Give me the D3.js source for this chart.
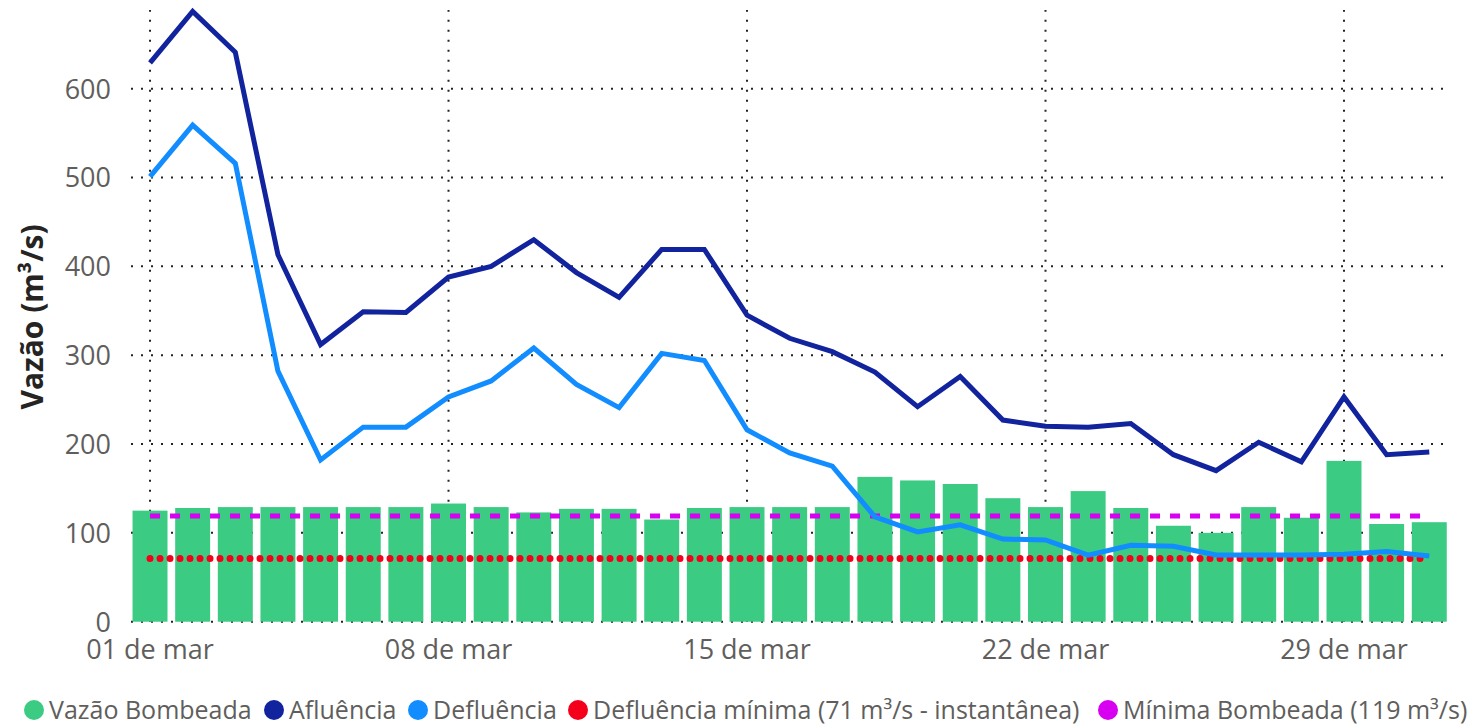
<!DOCTYPE html>
<html>
<head>
<meta charset="utf-8">
<script src="https://cdn.jsdelivr.net/npm/d3@7"></script>
<style>
  html, body { margin: 0; padding: 0; background: #fff; }
  svg { display: block; }
  svg text { font-family: "Open Sans", "Noto Sans", sans-serif; }
</style>
</head>
<body>
<svg id="chart" width="1475" height="728"></svg>
<script>
// ---------- data ----------
const days = d3.range(1, 32);
const vazaoBombeada = [125, 128, 129, 129, 129, 129, 129, 133, 129, 123, 127, 127, 115, 128, 129, 129, 129, 163, 159, 155, 139, 129, 147, 128, 108, 100, 129, 117, 181, 110, 112];
const afluencia = [629, 687, 641, 413, 312, 349, 348, 388, 400, 430, 393, 365, 419, 419, 345, 319, 304, 281, 242, 276, 227, 220, 219, 223, 188, 170, 202, 180, 253, 188, 191];
const defluencia = [501, 559, 516, 282, 182, 219, 219, 253, 271, 308, 267, 241, 302, 294, 216, 190, 175, 118, 101, 109, 93, 92, 75, 86, 85, 75, 75, 75, 76, 79, 74];
const defluenciaMinima = 71;
const minimaBombeada = 119;
const yTicks = [0, 100, 200, 300, 400, 500, 600];
const xTickDays = [1, 8, 15, 22, 29];
const xTickLabels = ["01 de mar", "08 de mar", "15 de mar", "22 de mar", "29 de mar"];
const legendLabels = ["Vazão Bombeada", "Afluência", "Defluência", "Defluência mínima (71 m³/s - instantânea)", "Mínima Bombeada (119 m³/s)"];
const yTitle = "Vazão (m³/s)";

// ---------- styles ----------
const colors = {
  bars: "#3BCB83",
  aflu: "#12239E",
  deflu: "#118DFF",
  red: "#F5001B",
  magenta: "#D800F0"
};
const legendColors = [colors.bars, colors.aflu, colors.deflu, colors.red, colors.magenta];
const FONT = '"Open Sans", "Noto Sans", sans-serif';

const svg = d3.select("#chart");

const x = d3.scaleBand()
  .domain(days)
  .range([128.7, 1450.6])
  .paddingInner(0.18)
  .paddingOuter(0.09);
const cx = d => x(d) + x.bandwidth() / 2;

const y = d3.scaleLinear().domain([0, 690]).range([621.7, 8.7]);

// ---------- gridlines ----------
const grid = svg.append("g");
grid.selectAll("line.h").data(yTicks).join("line")
  .attr("x1", 131).attr("x2", 1451)
  .attr("y1", d => y(d)).attr("y2", d => y(d))
  .attr("stroke", "#252423").attr("stroke-width", 2)
  .attr("stroke-dasharray", "2,8");
grid.selectAll("line.v").data(xTickDays).join("line")
  .attr("x1", d => cx(d)).attr("x2", d => cx(d))
  .attr("y1", y(0)).attr("y2", 10)
  .attr("stroke", "#252423").attr("stroke-width", 2)
  .attr("stroke-dasharray", "2,8");

// ---------- bars ----------
svg.append("g").selectAll("rect").data(days).join("rect")
  .attr("x", d => x(d))
  .attr("width", x.bandwidth())
  .attr("y", (d, i) => y(vazaoBombeada[i]))
  .attr("height", (d, i) => y(0) - y(vazaoBombeada[i]))
  .attr("fill", colors.bars);

// ---------- reference lines ----------
const line = d3.line().x(d => cx(d[0])).y(d => y(d[1]));

svg.append("path")
  .datum(days.map(d => [d, minimaBombeada]))
  .attr("d", line)
  .attr("fill", "none")
  .attr("stroke", colors.magenta)
  .attr("stroke-width", 5)
  .attr("stroke-dasharray", "10,10");

svg.append("path")
  .datum(days.map(d => [d, defluenciaMinima]))
  .attr("d", line)
  .attr("fill", "none")
  .attr("stroke", colors.red)
  .attr("stroke-width", 7)
  .attr("stroke-linecap", "round")
  .attr("stroke-dasharray", "0,10");

// ---------- series lines ----------
svg.append("path")
  .datum(days.map((d, i) => [d, defluencia[i]]))
  .attr("d", line)
  .attr("fill", "none")
  .attr("stroke", colors.deflu)
  .attr("stroke-width", 5)
  .attr("stroke-linejoin", "miter");

svg.append("path")
  .datum(days.map((d, i) => [d, afluencia[i]]))
  .attr("d", line)
  .attr("fill", "none")
  .attr("stroke", colors.aflu)
  .attr("stroke-width", 5)
  .attr("stroke-linejoin", "miter");

// ---------- axes ----------
const yAxis = d3.axisLeft(y).tickValues(yTicks).tickSize(0).tickPadding(0);
const yg = svg.append("g").attr("transform", "translate(111,0)").call(yAxis);
yg.attr("font-family", FONT).attr("font-size", 27);
yg.select(".domain").remove();
yg.selectAll("text")
  .attr("fill", "#605E5C")
  .attr("dy", "0.35em");

const xAxis = d3.axisBottom(x).tickValues(xTickDays)
  .tickFormat(d => xTickLabels[xTickDays.indexOf(d)])
  .tickSize(0).tickPadding(0);
const xg = svg.append("g").attr("transform", "translate(0,640)").call(xAxis);
xg.attr("font-family", FONT).attr("font-size", 27);
xg.select(".domain").remove();
xg.selectAll("text")
  .attr("fill", "#605E5C")
  .attr("dy", "0.71em");

// y-axis title
svg.append("text")
  .attr("transform", "translate(43,317) rotate(-90)")
  .attr("text-anchor", "middle")
  .attr("fill", "#252423")
  .style("font-size", "30px")
  .style("font-weight", "bold")
  .text(yTitle);

// ---------- legend ----------
const legendX = [34, 274, 418, 578, 1108];
const lg = svg.append("g");
legendLabels.forEach((lab, i) => {
  const g = lg.append("g").attr("transform", `translate(${legendX[i]},710)`);
  g.append("circle").attr("r", 10).attr("fill", legendColors[i]);
  g.append("text")
    .attr("x", 15)
    .attr("dy", "0.35em")
    .attr("fill", "#605E5C")
    .style("font-size", "25px")
    .text(lab);
});
</script>
</body>
</html>
